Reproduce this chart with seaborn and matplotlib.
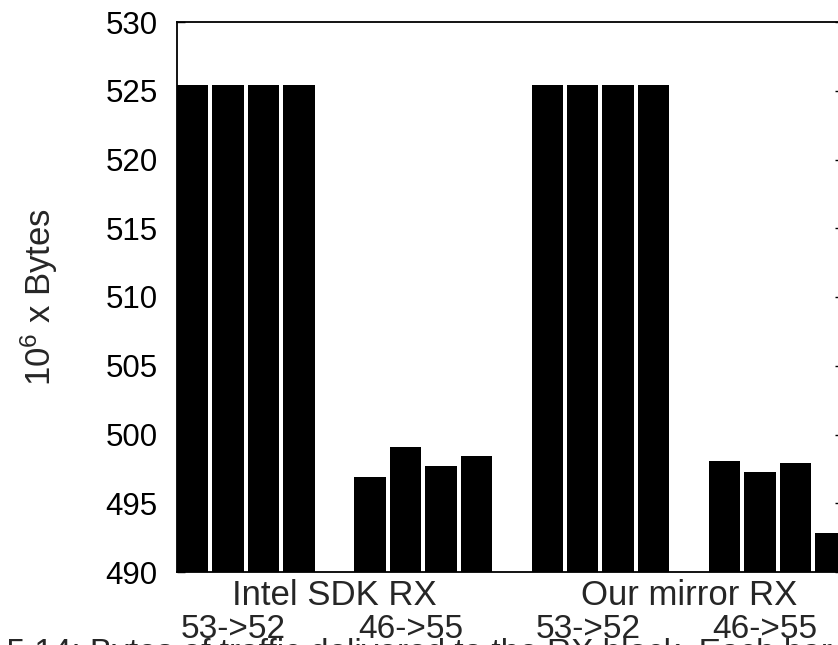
import matplotlib
matplotlib.use("Agg")
import matplotlib.pyplot as plt
import seaborn as sns
import pandas as pd

# Received bytes (in 10^6 bytes) for four runs of each flow
groups = ["Intel SDK RX", "Our mirror RX"]
flows = ["53->52", "46->55"]
intel_53_52 = [525.45, 525.45, 525.45, 525.45]
intel_46_55 = [496.90, 499.07, 497.71, 498.46]
mirror_53_52 = [525.40, 525.40, 525.40, 525.40]
mirror_46_55 = [498.07, 497.27, 497.93, 492.84]
y_ticks = [490, 495, 500, 505, 510, 515, 520, 525, 530]
caption = "Figure 5.14: Bytes of traffic delivered to the RX block. Each bar is"

series = {
    ("Intel SDK RX", "53->52"): intel_53_52,
    ("Intel SDK RX", "46->55"): intel_46_55,
    ("Our mirror RX", "53->52"): mirror_53_52,
    ("Our mirror RX", "46->55"): mirror_46_55,
}

# one categorical slot per bar, with an empty slot between clusters
rows, order = [], []
cluster_centers = []
for gi, g in enumerate(groups):
    for fi, f in enumerate(flows):
        if order:
            order.append(f"gap{len(order)}")
        start = len(order)
        for run, v in enumerate(series[(g, f)]):
            slot = f"{g}|{f}|{run}"
            order.append(slot)
            rows.append({"slot": slot, "bytes": v})
        cluster_centers.append((g, f, start + 1.5))
df = pd.DataFrame(rows)

sns.set_theme(style="white")
plt.rcParams["font.family"] = ["Liberation Sans", "DejaVu Sans"]

W, H, DPI = 838, 645, 100
fig = plt.figure(figsize=(W / DPI, H / DPI), dpi=DPI)
left_px, right_px, top_px, bottom_px = 177, 843, 22, 572
ax = fig.add_axes([left_px / W, 1 - bottom_px / H,
                   (right_px - left_px) / W, (bottom_px - top_px) / H])

sns.barplot(data=df, x="slot", y="bytes", order=order, color="black",
            saturation=1, width=0.885, linewidth=0, ax=ax)

slot_px = 35.45
ax.set_ylim(490, 530)
ax.set_xlim(-0.4425, -0.4425 + (right_px - left_px) / slot_px)
ax.set_yticks(y_ticks)
ax.set_yticklabels([str(t) for t in y_ticks])
ax.set_xticks([])
ax.set_xlabel("")
ax.set_ylabel(r"$\mathregular{10^6}$ x Bytes", fontsize=25)
ax.yaxis.set_label_coords(-(left_px - 60) / (right_px - left_px), 0.5)

ax.tick_params(axis="y", which="both", direction="in", length=6, width=1,
               labelsize=22.5, pad=14, right=True, left=True, colors="black")
for s in ax.spines.values():
    s.set_visible(True)
    s.set_color("black")
    s.set_linewidth(1.3)

# cluster and group labels below the axis
tr = ax.get_xaxis_transform()
h_ax = bottom_px - top_px
for g, f, c in cluster_centers:
    ax.text(c - 0.35, -(638 - bottom_px) / h_ax, f, transform=tr, ha="center",
            va="baseline", fontsize=24, clip_on=False)
for gi, g in enumerate(groups):
    c = gi * 10 + 4
    ax.text(c, -(605 - bottom_px) / h_ax, g, transform=tr, ha="center",
            va="baseline", fontsize=25, clip_on=False)

# figure caption, running off the bottom edge of the canvas
fig.text(-97 / W, 1 - 662 / H, caption, ha="left", va="baseline",
         fontsize=24, family=["Liberation Sans", "DejaVu Sans"])

fig.savefig("out.png", dpi=DPI)
